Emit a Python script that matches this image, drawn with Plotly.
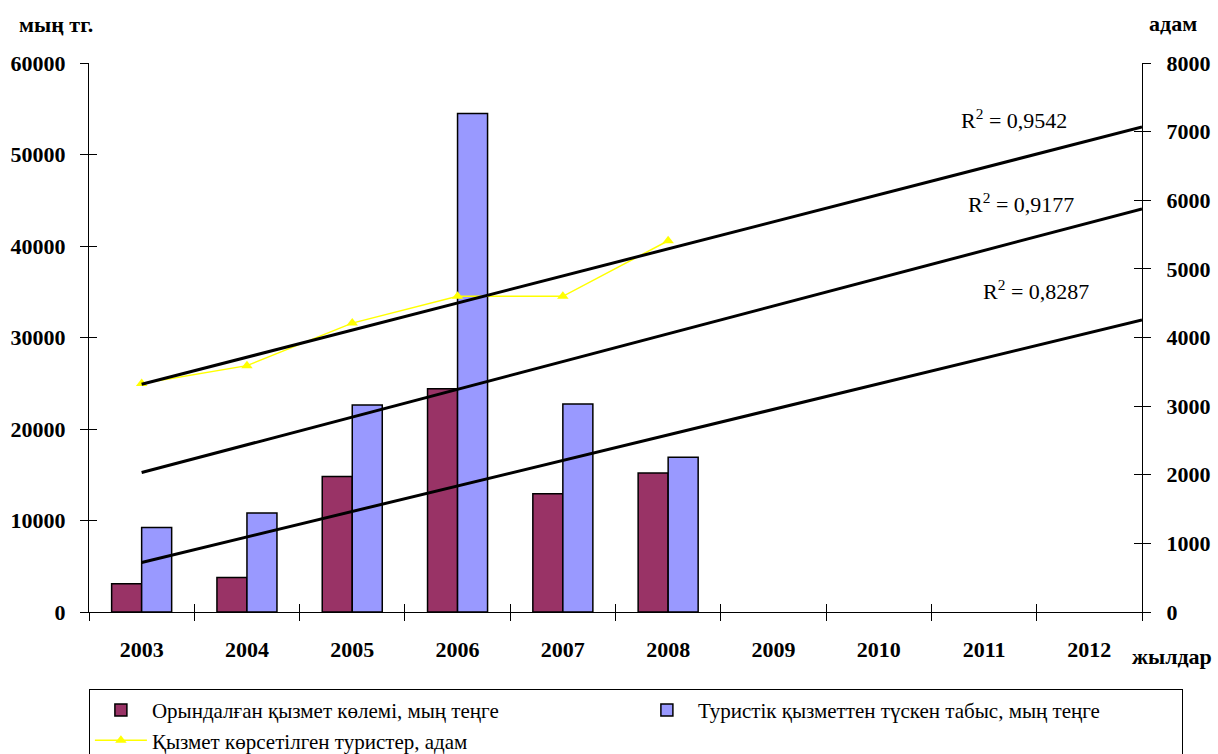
import plotly.graph_objects as go

# Categories (years) and series values
years = ["2003", "2004", "2005", "2006", "2007", "2008", "2009", "2010", "2011", "2012"]
data_years = years[:6]
service_volume = [3090, 3780, 14800, 24410, 12920, 15180]      # мың теңге
tourism_income = [9240, 10810, 22630, 54480, 22740, 16920]     # мың теңге
tourists_served = [3330, 3590, 4210, 4600, 4600, 5410]         # адам

# Linear trends (value at 2003 and at the end of the 2012 forecast)
trend_start = [24890, 15240, 5410]
trend_end = [53010, 44060, 31910]
trend_r2 = ["0,9542", "0,9177", "0,8287"]

left_ticks = [0, 10000, 20000, 30000, 40000, 50000, 60000]
right_ticks = [0, 1000, 2000, 3000, 4000, 5000, 6000, 7000, 8000]

FONT = "Liberation Serif"
MAROON = "#993366"
PERIWINKLE = "#9999FF"
YELLOW = "#FFFF00"

n = len(years)
boundaries = [i - 0.5 for i in range(n + 1)]
trend_x = [0, n - 0.5]

fig = go.Figure()

fig.add_trace(go.Bar(
    x=data_years, y=service_volume,
    name="Орындалған қызмет көлемі, мың теңге",
    marker=dict(color=MAROON, line=dict(color="black", width=1.5)),
    xaxis="x", yaxis="y",
))
fig.add_trace(go.Bar(
    x=data_years, y=tourism_income,
    name="Туристік қызметтен түскен табыс, мың теңге",
    marker=dict(color=PERIWINKLE, line=dict(color="black", width=1.5)),
    xaxis="x", yaxis="y",
))
fig.add_trace(go.Scatter(
    x=data_years, y=tourists_served,
    name="Қызмет көрсетілген туристер, адам",
    mode="lines+markers",
    line=dict(color=YELLOW, width=1.5),
    marker=dict(symbol="triangle-up", size=10, color=YELLOW),
    xaxis="x", yaxis="y2",
))
for s, e in zip(trend_start, trend_end):
    fig.add_trace(go.Scatter(
        x=trend_x, y=[s, e], mode="lines",
        line=dict(color="black", width=3),
        showlegend=False, hoverinfo="skip",
        xaxis="x2", yaxis="y3",
    ))
# carries the inner tick marks of the right axis
fig.add_trace(go.Scatter(x=[None], y=[None], showlegend=False, hoverinfo="skip",
                         xaxis="x2", yaxis="y4"))

tick_font = dict(family=FONT, size=22, color="black", weight="bold")

fig.update_layout(
    width=1218, height=754,
    paper_bgcolor="white", plot_bgcolor="white",
    margin=dict(l=89, r=76, t=63, b=142, autoexpand=False),
    barmode="group", bargap=0.43, bargroupgap=0,
    font=dict(family=FONT, color="black"),
    showlegend=True,
    xaxis=dict(
        type="category", categoryorder="array", categoryarray=years,
        range=[-0.5, n - 0.5], tickson="boundaries",
        ticks="outside", ticklen=8, tickcolor="black", tickwidth=1,
        showline=True, linecolor="black", linewidth=1,
        showgrid=False, zeroline=False,
        tickfont=tick_font, ticklabelstandoff=18,
    ),
    xaxis2=dict(
        overlaying="x", type="linear", range=[-0.5, n - 0.5], anchor="y",
        tickmode="array", tickvals=boundaries, ticks="inside", ticklen=8,
        tickcolor="black", showticklabels=False, showgrid=False,
        zeroline=False, showline=False, side="bottom",
    ),
    yaxis=dict(
        range=[0, 60000], tickmode="array", tickvals=left_ticks, tickformat="d",
        ticks="outside", ticklen=8, tickcolor="black",
        showline=True, linecolor="black", linewidth=1,
        showgrid=False, zeroline=False,
        tickfont=tick_font, ticklabelstandoff=10,
    ),
    yaxis2=dict(
        overlaying="y", side="right", range=[0, 8000],
        tickmode="array", tickvals=right_ticks, tickformat="d",
        ticks="outside", ticklen=8, tickcolor="black",
        showline=True, linecolor="black", linewidth=1,
        showgrid=False, zeroline=False,
        tickfont=tick_font, ticklabelstandoff=11,
    ),
    yaxis3=dict(
        overlaying="y", side="left", range=[0, 60000], anchor="x",
        tickmode="array", tickvals=left_ticks, ticks="inside", ticklen=8,
        tickcolor="black", showticklabels=False, showgrid=False,
        zeroline=False, showline=False,
    ),
    yaxis4=dict(
        overlaying="y", side="right", range=[0, 8000], anchor="x",
        tickmode="array", tickvals=right_ticks, ticks="inside", ticklen=8,
        tickcolor="black", showticklabels=False, showgrid=False,
        zeroline=False, showline=False,
    ),
    legend=dict(
        orientation="h", x=-0.0001, xanchor="left", y=-0.140, yanchor="top",
        bgcolor="white", bordercolor="black", borderwidth=1,
        font=dict(family=FONT, size=21, color="black"),
        entrywidth=479, entrywidthmode="pixels", itemwidth=52,
        traceorder="normal",
    ),
)

# R² labels of the trend lines
r2_pos = [(0.878, 0.898), (0.885, 0.745), (0.899, 0.586)]
for (ax, ay), r2 in zip(r2_pos, trend_r2):
    fig.add_annotation(
        x=ax, y=ay, xref="paper", yref="paper", showarrow=False,
        xanchor="center", yanchor="middle",
        text=f"R<sup>2</sup> = {r2}",
        font=dict(family=FONT, size=22, color="black"),
    )

# Axis titles
title_font = dict(family=FONT, size=22, color="black", weight="bold")
fig.add_annotation(x=-0.068, y=1.070, xref="paper", yref="paper",
                   xanchor="left", yanchor="middle",
                   showarrow=False, text="мың тг.", font=title_font)
fig.add_annotation(x=1.0045, y=1.072, xref="paper", yref="paper",
                   xanchor="left", yanchor="middle",
                   showarrow=False, text="адам", font=title_font)
fig.add_annotation(x=0.9886, y=-0.081, xref="paper", yref="paper",
                   xanchor="left", yanchor="middle",
                   showarrow=False, text="жылдар", font=title_font)

fig.write_html("out.html")
